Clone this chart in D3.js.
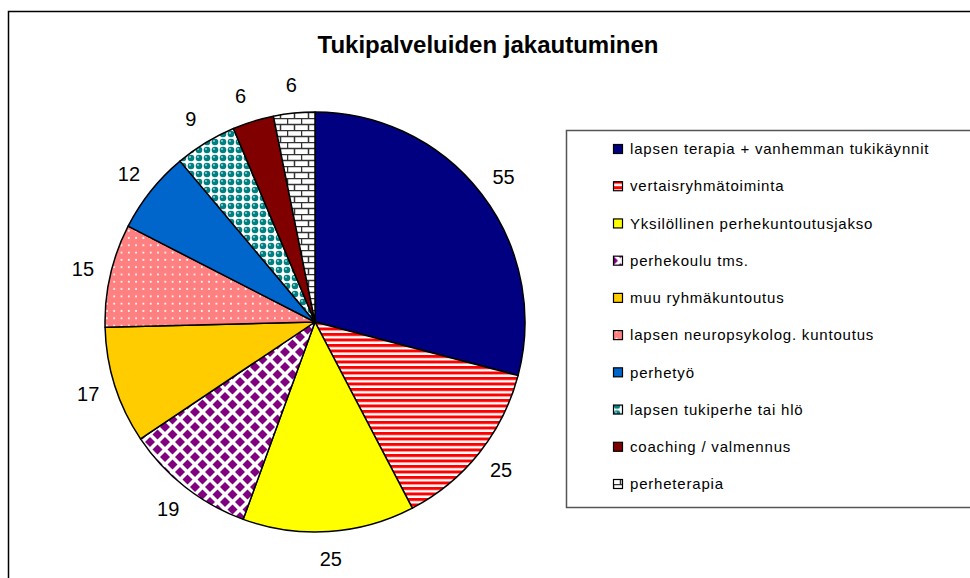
<!DOCTYPE html>
<html>
<head>
<meta charset="utf-8">
<script src="https://cdn.jsdelivr.net/npm/d3@7"></script>
<style>
    body { margin: 0; background: #fff; }
    svg { display: block; font-family: Arial, "Liberation Sans", sans-serif; }
</style>
</head>
<body>
<div id="chart-container"></div>
<script>
(function(){
    /* global d3 */
    var title = 'Tukipalveluiden jakautuminen';
    var categories = [
        'lapsen terapia + vanhemman tukikäynnit',
        'vertaisryhmätoiminta',
        'Yksilöllinen perhekuntoutusjakso',
        'perhekoulu tms.',
        'muu ryhmäkuntoutus',
        'lapsen neuropsykolog. kuntoutus',
        'perhetyö',
        'lapsen tukiperhe tai hlö',
        'coaching / valmennus',
        'perheterapia'
    ];
    var values = [55, 25, 25, 19, 17, 15, 12, 9, 6, 6];
    var fills = ['#000080', 'url(#stripes)', '#ffff00', 'url(#diamonds)', '#ffcc00',
                 'url(#dots)', '#0066cc', 'url(#spheres)', '#800000', 'url(#bricks)'];

    var W = 970, H = 578;
    var cx = 315, cy = 322, R = 210, labelR = 238;

    var svg = d3.select('#chart-container')
        .append('svg')
        .attr('width', W)
        .attr('height', H);

    makePatterns(svg.append('defs'));

    // outer frame (runs off the right / bottom edge like the original)
    svg.append('rect')
        .attr('x', 8.5).attr('y', 11.5)
        .attr('width', 980).attr('height', 600)
        .attr('fill', 'none').attr('stroke', '#000').attr('stroke-width', 1.5);

    svg.append('text')
        .attr('x', 488).attr('y', 53)
        .attr('text-anchor', 'middle')
        .attr('font-size', 24).attr('font-weight', 'bold')
        .text(title);

    var pie = d3.pie().sort(null).value(d => d);
    var arcs = pie(values);
    var arc = d3.arc().innerRadius(0).outerRadius(R);

    var g = svg.append('g').attr('transform', 'translate(' + cx + ',' + cy + ')');

    g.selectAll('path')
        .data(arcs).enter()
        .append('path')
        .attr('d', arc)
        .attr('fill', (d, i) => fills[i])
        .attr('stroke', '#000')
        .attr('stroke-width', 1.5)
        .attr('stroke-linejoin', 'round');

    // label angles, pushed apart when crowded (walk backwards from last slice)
    var minGap = 12.5 * Math.PI / 180;
    var angles = arcs.map(d => (d.startAngle + d.endAngle) / 2);
    for (var i = angles.length - 2; i >= 0; i--) {
        if (angles[i + 1] - angles[i] < minGap) angles[i] = angles[i + 1] - minGap;
    }

    g.selectAll('text.lbl')
        .data(arcs).enter()
        .append('text')
        .attr('class', 'lbl')
        .attr('x', (d, i) => labelR * Math.sin(angles[i]))
        .attr('y', (d, i) => -labelR * Math.cos(angles[i]))
        .attr('dy', '0.35em')
        .attr('text-anchor', 'middle')
        .attr('font-size', 20)
        .text(d => d.value);

    // legend
    var lx = 566, ly = 130, lh = 377;
    svg.append('rect')
        .attr('x', lx + 0.5).attr('y', ly + 0.5)
        .attr('width', 420).attr('height', lh)
        .attr('fill', '#fff').attr('stroke', '#555').attr('stroke-width', 1.5);

    var y = d3.scalePoint().domain(categories).range([ly + 19, ly + lh - 23]);

    var items = svg.selectAll('g.leg')
        .data(categories).enter()
        .append('g')
        .attr('class', 'leg')
        .attr('transform', d => 'translate(613,' + y(d) + ')');

    items.append('rect')
        .attr('x', 0.5).attr('y', -4.5)
        .attr('width', 9).attr('height', 9)
        .attr('fill', (d, i) => fills[i])
        .attr('stroke', '#000').attr('stroke-width', 1.2);

    items.append('text')
        .attr('x', 17).attr('dy', '0.35em')
        .attr('font-size', 15)
        .attr('letter-spacing', 0.8)
        .text(d => d);

    function makePatterns(defs){
        var p = defs.append('pattern').attr('id', 'stripes')
            .attr('patternUnits', 'userSpaceOnUse').attr('width', 8).attr('height', 5.5);
        p.append('rect').attr('width', 8).attr('height', 5.5).attr('fill', '#fff');
        p.append('rect').attr('width', 8).attr('height', 3).attr('fill', '#ff0000');

        p = defs.append('pattern').attr('id', 'diamonds')
            .attr('patternUnits', 'userSpaceOnUse').attr('width', 15).attr('height', 15);
        p.append('rect').attr('width', 15).attr('height', 15).attr('fill', '#fff');
        [[7.5, 7.5], [0, 0], [15, 0], [0, 15], [15, 15]].forEach(c => {
            p.append('path')
                .attr('d', 'M' + (c[0] - 5) + ',' + c[1] + 'L' + c[0] + ',' + (c[1] - 5) +
                    'L' + (c[0] + 5) + ',' + c[1] + 'L' + c[0] + ',' + (c[1] + 5) + 'Z')
                .attr('fill', '#800080');
        });

        p = defs.append('pattern').attr('id', 'dots')
            .attr('patternUnits', 'userSpaceOnUse').attr('width', 7.3).attr('height', 7.3);
        p.append('rect').attr('width', 7.3).attr('height', 7.3).attr('fill', '#ff8080');
        p.append('circle').attr('cx', 3.6).attr('cy', 3.6).attr('r', 1).attr('fill', '#fff');

        p = defs.append('pattern').attr('id', 'spheres')
            .attr('patternUnits', 'userSpaceOnUse').attr('width', 8).attr('height', 8);
        p.append('rect').attr('width', 8).attr('height', 8).attr('fill', '#fff');
        p.append('circle').attr('cx', 4).attr('cy', 4).attr('r', 3.3).attr('fill', '#008080');
        p.append('circle').attr('cx', 3).attr('cy', 3).attr('r', 1).attr('fill', '#9fd0d0');

        p = defs.append('pattern').attr('id', 'bricks')
            .attr('patternUnits', 'userSpaceOnUse').attr('width', 14).attr('height', 12);
        p.append('rect').attr('width', 14).attr('height', 12).attr('fill', '#fff');
        p.append('path')
            .attr('d', 'M0,0.5H14M0,6.5H14M0.5,0V6M7.5,6V12')
            .attr('stroke', '#333').attr('stroke-width', 1.5).attr('fill', 'none');
    }
})();
</script>
</body>
</html>
